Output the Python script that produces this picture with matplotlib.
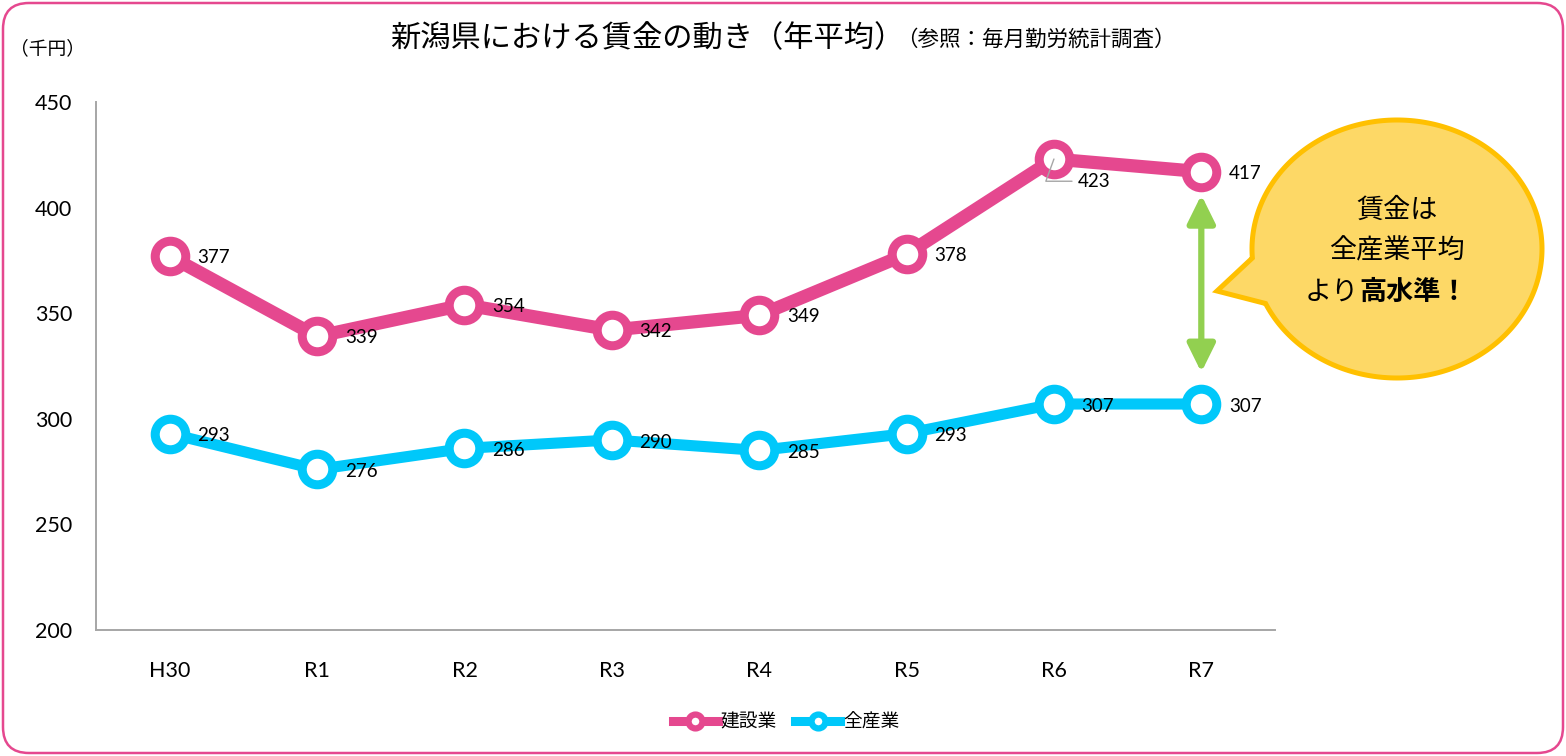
import matplotlib
matplotlib.use("Agg")
import matplotlib.pyplot as plt
from matplotlib.lines import Line2D
from matplotlib.patches import FancyBboxPatch, PathPatch
from matplotlib.path import Path
from matplotlib.transforms import IdentityTransform
import numpy as np

plt.rcParams['font.family'] = ['Lato', 'Noto Sans CJK JP', 'DejaVu Sans']

categories = ['H30', 'R1', 'R2', 'R3', 'R4', 'R5', 'R6', 'R7']
construction = [377, 339, 354, 342, 349, 378, 423, 417]
all_industry = [293, 276, 286, 290, 285, 293, 307, 307]
series_names = ['建設業', '全産業']
yticks = [200, 250, 300, 350, 400, 450]

PINK = '#E5488F'
CYAN = '#00C8FA'
GREEN = '#92D050'
GRAY = '#A6A6A6'

W, H = 1566, 756
fig = plt.figure(figsize=(W / 100, H / 100), dpi=100)
ID = IdentityTransform()


def P(x, y):
    return (x, H - y)


ax = fig.add_axes([96 / W, (H - 630) / H, 1179 / W, 528 / H])
x = np.arange(len(categories))

ax.plot(x, construction, color=PINK, lw=9.5, marker='o', ms=22, mew=6.5,
        mfc='white', mec=PINK, zorder=3, solid_capstyle='round')
ax.plot(x, all_industry, color=CYAN, lw=8, marker='o', ms=22, mew=6.5,
        mfc='white', mec=CYAN, zorder=3, solid_capstyle='round')

ax.set_xlim(-0.5, len(categories) - 0.5)
ax.set_ylim(200, 450)
ax.set_yticks(yticks)
ax.set_xticks(x)
ax.set_xticklabels(categories)
ax.tick_params(axis='both', length=0, labelsize=15.5)
ax.tick_params(axis='y', pad=17)
ax.tick_params(axis='x', pad=22)
for s in ['top', 'right']:
    ax.spines[s].set_visible(False)
for s in ['left', 'bottom']:
    ax.spines[s].set_color(GRAY)
    ax.spines[s].set_linewidth(1.4)

# data labels
for i, v in enumerate(construction):
    if i == 6:
        ax.annotate(str(v), (i, v), xytext=(17, -16), textcoords='offset points',
                    fontsize=13.5, va='center', ha='left', zorder=5,
                    arrowprops=dict(arrowstyle='-', color=GRAY, lw=1,
                                    connectionstyle='angle,angleA=0,angleB=70',
                                    shrinkA=2, shrinkB=0))
    else:
        ax.annotate(str(v), (i, v), xytext=(20, -1), textcoords='offset points',
                    fontsize=13.5, va='center', ha='left', zorder=5)
for i, v in enumerate(all_industry):
    ax.annotate(str(v), (i, v), xytext=(20, -1.5), textcoords='offset points',
                fontsize=13.5, va='center', ha='left', zorder=5)

# green double arrow between the last points
last = len(categories) - 1
ax.annotate('', xy=(last, construction[-1] - 11), xytext=(last, all_industry[-1] + 15),
            arrowprops=dict(arrowstyle='<|-|>,head_length=0.85,head_width=0.42',
                            mutation_scale=20, color=GREEN, lw=4.5,
                            shrinkA=0, shrinkB=0), zorder=2)

# titles
fig.text(390 / W, 1 - 39 / H, '新潟県における賃金の動き（年平均）', fontsize=21.8,
         family=['Noto Sans CJK JP'], va='center', ha='left')
fig.text(896 / W, 1 - 40 / H, '（参照：毎月勤労統計調査）', fontsize=15.5,
         family=['Noto Sans CJK JP'], va='center', ha='left')
fig.text(10 / W, 1 - 49 / H, '（千円）', fontsize=13.5, family=['Noto Sans CJK JP'],
         va='center', ha='left')

# legend
handles = [Line2D([0], [0], color=PINK, lw=6.5, marker='o', ms=10, mew=4.5, mfc='white', mec=PINK),
           Line2D([0], [0], color=CYAN, lw=6.5, marker='o', ms=10, mew=4.5, mfc='white', mec=CYAN)]
fig.legend(handles, series_names, loc='center', bbox_to_anchor=(786 / W, 1 - 722 / H),
           ncol=2, frameon=False, prop={'family': ['Noto Sans CJK JP'], 'size': 13.5},
           handlelength=2.4, handletextpad=0.15, columnspacing=1.0)

# speech bubble
cx, cy = 1397, 249
a, b = 145, 129
th1 = np.deg2rad(184)
th2 = np.deg2rad(205)
ts = np.linspace(th2, th1 + 2 * np.pi, 300)
pts = [(cx + a * np.cos(t), (H - cy) + b * np.sin(t)) for t in ts]
pts.append(P(1217, 291))
pts.append(pts[0])
codes = [Path.MOVETO] + [Path.LINETO] * (len(pts) - 2) + [Path.CLOSEPOLY]
bubble = PathPatch(Path(pts, codes), facecolor='#FDD866', edgecolor='#FFC000',
                   lw=3.6, transform=ID, joinstyle='miter')
fig.add_artist(bubble)
fig.text(1397 / W, 1 - 210 / H, '賃金は', fontsize=19.5, family=['Noto Sans CJK JP'],
         ha='center', va='center')
fig.text(1397 / W, 1 - 251 / H, '全産業平均', fontsize=19.5, family=['Noto Sans CJK JP'],
         ha='center', va='center')
fig.text(1359 / W, 1 - 292 / H, 'より', fontsize=19.5, family=['Noto Sans CJK JP'],
         ha='right', va='center')
fig.text(1359 / W, 1 - 292 / H, '高水準！', fontsize=19.5, family=['Noto Sans CJK JP'],
         fontweight='bold', ha='left', va='center')

# border
border = FancyBboxPatch(P(3, 753), 1560, 750, boxstyle='round,pad=0,rounding_size=26',
                        facecolor='none', edgecolor=PINK, lw=1.8, transform=ID)
fig.add_artist(border)

fig.savefig('out.png', dpi=100, facecolor='white')
